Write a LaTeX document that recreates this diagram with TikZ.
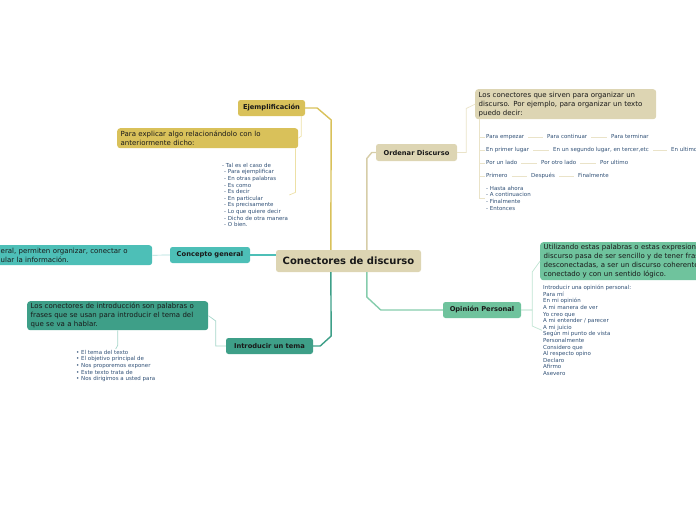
\documentclass[tikz,border=0pt]{standalone}
\usepackage{fontspec}
\setmainfont{DejaVu Sans}
\usetikzlibrary{calc}
\definecolor{beige}{HTML}{DDD5B3}
\definecolor{gold}{HTML}{D9C15A}
\definecolor{teal1}{HTML}{4DBFB7}
\definecolor{introg}{HTML}{3E9F88}
\definecolor{opg}{HTML}{6FC39D}
\definecolor{tblue}{HTML}{2F4F75}
\definecolor{beigeln}{HTML}{D6CDA8}
\definecolor{beigelt}{HTML}{EAE3C8}
\definecolor{goldlt}{HTML}{EDE0A6}
\definecolor{teallt}{HTML}{A9DDD9}
\definecolor{introlt}{HTML}{A6D6CA}
\definecolor{oplt}{HTML}{BFE4D2}
\tikzset{
  topic/.style={rounded corners=2.5pt, inner sep=0pt, font=\bfseries\fontsize{6.7}{7}\selectfont, text=black!90},
  tbox/.style={rounded corners=3pt, anchor=north west, inner xsep=3.5pt, inner ysep=0pt, align=left, font=\fontsize{7}{9}\selectfont, text=black!90},
  small/.style={font=\fontsize{5.5}{6.6}\selectfont, text=tblue, inner sep=1pt, align=left},
  rowt/.style={font=\fontsize{5.5}{6.6}\selectfont, text=tblue, inner sep=1pt, text height=4.2pt, text depth=1.2pt, anchor=west},
  main/.style={line width=1.4pt},
  thin/.style={line width=0.7pt},
}
\begin{document}
\begin{tikzpicture}[x=1pt,y=-1pt]
\useasboundingbox (0,0) rectangle (696,520);
% central
\node[topic, fill=beige, minimum width=145, minimum height=22, font=\bfseries\fontsize{10}{11}\selectfont] (center) at (348.5,261) {Conectores de discurso};
% Ejemplificacion
\node[topic, fill=gold, minimum width=67, minimum height=16] (ej) at (271.5,108) {Ejemplificación};
\node[tbox, fill=gold, text width=174, minimum height=20] (expl) at (117,128) {Para explicar algo relacionándolo con lo\\anteriormente dicho:};
\node[small, anchor=north west] (ejlist) at (221,162) {- Tal es el caso de\\\hspace{2pt}- Para ejemplificar\\\hspace{2pt}- En otras palabras\\\hspace{2pt}- Es como\\\hspace{2pt}- Es decir\\\hspace{2pt}- En particular\\\hspace{2pt}- Es precisamente\\\hspace{2pt}- Lo que quiere decir\\\hspace{2pt}- Dicho de otra manera\\\hspace{2pt}- O bien.};
% Concepto general
\node[topic, fill=teal1, minimum width=80, minimum height=16] (conc) at (210,255) {Concepto general};
\node[tbox, fill=teal1, text width=165, minimum height=20] (lbox) at (-20,245) {\hspace{17pt}eral, permiten organizar, conectar o\\\hspace{17pt}ular la información.};
% Introducir
\node[topic, fill=introg, minimum width=87, minimum height=16] (intro) at (269.5,346) {Introducir un tema};
\node[tbox, fill=introg, text width=174, minimum height=29] (ibox) at (27,301) {Los conectores de introducción son palabras o\\frases que se usan para introducir el tema del\\que se va a hablar.};
\node[small, anchor=north west] (ilist) at (75,349) {• El tema del texto\\• El objetivo principal de\\• Nos proporemos exponer\\• Este texto trata de\\• Nos dirigimos a usted para};
% Ordenar
\node[topic, fill=beige, minimum width=81, minimum height=17] (ord) at (416.5,152.5) {Ordenar Discurso};
\node[tbox, fill=beige, text width=174, minimum height=30] (obox) at (475,89) {Los conectores que sirven para organizar un\\discurso. Por ejemplo, para organizar un texto\\puedo decir:};
\node[rowt] (r11) at (485,137) {Para empezar};
\node[rowt] (r12) at (546,137) {Para continuar};
\node[rowt] (r13) at (610,137) {Para terminar};
\node[rowt] (r21) at (485,150) {En primer lugar};
\node[rowt] (r22) at (552,150) {En un segundo lugar, en tercer,etc};
\node[rowt] (r23) at (670,150) {En ultimo};
\node[rowt] (r31) at (485,163) {Por un lado};
\node[rowt] (r32) at (540,163) {Por otro lado};
\node[rowt] (r33) at (599,163) {Por ultimo};
\node[rowt] (r41) at (485,176) {Primero};
\node[rowt] (r42) at (530,176) {Después};
\node[rowt] (r43) at (577,176) {Finalmente};
\node[small, anchor=north west] (olist) at (485,185) {- Hasta ahora\\- A continuacion\\- Finalmente\\- Entonces};
% Opinion
\node[topic, fill=opg, minimum width=78, minimum height=16] (op) at (482,310) {Opinión Personal};
\node[tbox, fill=opg, text width=190, minimum height=38] (opbox) at (540,242) {Utilizando estas palabras o estas expresiones\\discurso pasa de ser sencillo y de tener frases\\desconectadas, a ser un discurso coherente\\conectado y con un sentido lógico.};
\node[small, anchor=north west] (oplist) at (542,284) {Introducir una opinión personal:\\Para mí\\En mi opinión\\A mi manera de ver\\Yo creo que\\A mi entender / parecer\\A mi juicio\\Según mi punto de vista\\Personalmente\\Considero que\\Al respecto opino\\Declaro\\Afirmo\\Asevero};
% main connectors
\draw[main, gold] (ej.east) -- ++(12,0) -- ++(14,12) -- ($(center.north west)+(55,0)$);
\draw[main, introg] (intro.east) -- ++(7,0) -- ++(11,-10) -- ($(center.south west)+(55,0)$);
\draw[main, beigeln] (ord.west) -- ++(-4,0) -- ++(-5,6) -- ($(center.north west)+(91,0)$);
\draw[main, opg!85] (op.west) -- ++(-62,0) -- ++(-14,-13) -- ($(center.south west)+(91,0)$);
\draw[main, teal1] (conc.east) -- (conc.east -| center.west);
% thin connectors
\draw[thin, goldlt] ($(ej.south east)+(-4,0)$) -- ++(0,20) -- (expl.east);
\draw[thin, goldlt] ($(expl.south east)+(-3,0)$) -- ++(0,44) -- (ejlist.east);
\draw[thin, teallt] (conc.west) -- (lbox.east);
\draw[thin, introlt] (intro.west) -- ++(-10,0) -- ++(0,-25) -- (ibox.east);
\draw[thin, introlt] (ibox.south) -- ++(0,15) -- (ilist.north);
\draw[thin, beigelt] (ord.east) -- ++(9,0) -- ++(0,-44) -- (obox.west);
\draw[thin, oplt] (op.east) -- ++(11,0) -- ++(0,-38) -- (opbox.west);
\draw[thin, oplt] (op.east) -- ++(11,0) -- ++(0,16) -- (oplist.west);
\foreach \r in {r11,r21,r31,r41,olist}
  \draw[thin, beigelt] ($(obox.south west)+(4,0)$) |- (\r.west);
\foreach \a/\b in {r11/r12,r12/r13,r21/r22,r22/r23,r31/r32,r32/r33,r41/r42,r42/r43}
  \draw[thin, beigelt, shorten <=3pt, shorten >=3pt] (\a.east) -- (\b.west);
\end{tikzpicture}
\end{document}
